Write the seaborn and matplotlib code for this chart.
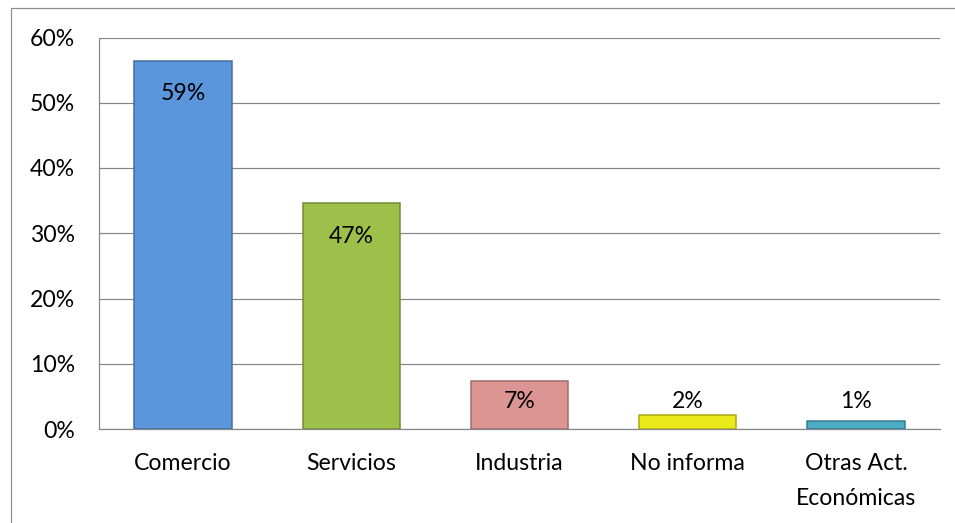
import matplotlib
matplotlib.use("Agg")
import matplotlib.pyplot as plt
import seaborn as sns
import pandas as pd
from matplotlib.patches import Rectangle
import matplotlib.colors as mcolors

categories = ["Comercio", "Servicios", "Industria", "No informa", "Otras Act.\nEconómicas"]
bar_heights = [56.4, 34.6, 7.4, 2.2, 1.3]
bar_labels = ["59%", "47%", "7%", "2%", "1%"]
colors = ["#5B96DD", "#9CC04A", "#DB9694", "#EAEA1A", "#4BACC6"]
y_ticks = [0, 10, 20, 30, 40, 50, 60]
y_tick_labels = ["0%", "10%", "20%", "30%", "40%", "50%", "60%"]

sns.set_theme(style="white")
plt.rcParams["font.family"] = ["Lato", "DejaVu Sans"]

DPI = 72
FS = 23
fig = plt.figure(figsize=(955 / DPI, 523 / DPI), dpi=DPI)
ax = fig.add_axes([99 / 955, 1 - 429 / 523, (940 - 99) / 955, (429 - 37.5) / 523])

df = pd.DataFrame({"cat": categories, "val": bar_heights})
sns.barplot(data=df, x="cat", y="val", hue="cat", palette=colors, legend=False,
            width=0.58, saturation=1, ax=ax, zorder=3)

for patch, c in zip(ax.patches, colors):
    rgb = mcolors.to_rgb(c)
    dark = tuple(v * 0.72 for v in rgb)
    patch.set_edgecolor(dark)
    patch.set_linewidth(1.5)

ax.set_ylim(0, 60)
ax.set_yticks(y_ticks)
ax.set_yticklabels(y_tick_labels)
ax.set_xlim(-0.5, len(categories) - 0.5)
ax.yaxis.grid(True, color="#868686", linewidth=1.2, zorder=0)
ax.set_axisbelow(True)
ax.set_xlabel("")
ax.set_ylabel("")
for s in ["top", "right"]:
    ax.spines[s].set_visible(False)
for s in ["left", "bottom"]:
    ax.spines[s].set_color("#868686")
    ax.spines[s].set_linewidth(1.2)
ax.tick_params(axis="both", length=0, labelsize=FS, colors="black")
ax.tick_params(axis="y", pad=24)
ax.tick_params(axis="x", pad=24)
for t in ax.get_xticklabels():
    t.set_linespacing(1.8)

px_per_unit = (429 - 37.5) / 60.0
for i, (h, lab) in enumerate(zip(bar_heights, bar_labels)):
    if h > 20:
        y = h - 33 / px_per_unit
    else:
        y = (429 - 402) / px_per_unit
    ax.text(i, y, lab, ha="center", va="center", fontsize=FS, color="black", zorder=5)

fig.add_artist(Rectangle((11 / 955, -0.2), 2.0, 1 - 8 / 523 + 0.2,
                         transform=fig.transFigure, fill=False,
                         edgecolor="#8c8c8c", linewidth=1.2))

fig.savefig("out.png", dpi=DPI)
